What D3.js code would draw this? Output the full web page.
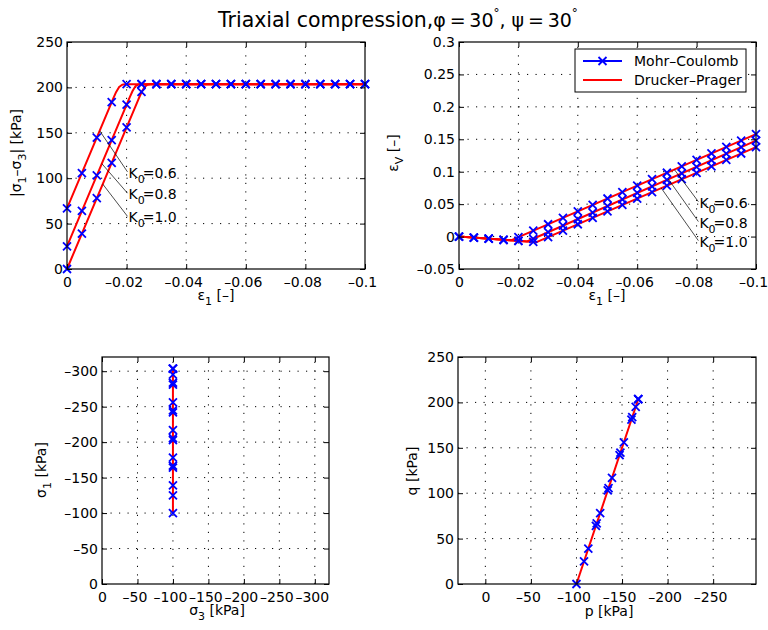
<!DOCTYPE html>
<html>
<head>
<meta charset="utf-8">
<script src="https://cdn.jsdelivr.net/npm/d3@7"></script>
<style>
  body { margin: 0; background: white; }
  svg { font-family: 'DejaVu Sans', sans-serif; }
  .tick text { font-size: 14px; fill: black; }
  .lbl { font-size: 14px; }
</style>
</head>
<body>
<svg id="fig" width="768" height="630"></svg>
<script>
// ---- data ----
const strain = [0, -0.005, -0.01, -0.015, -0.02, -0.025, -0.03, -0.035, -0.04, -0.045, -0.05,
  -0.055, -0.06, -0.065, -0.07, -0.075, -0.08, -0.085, -0.09, -0.095, -0.1];

// Mohr-Coulomb |s1-s3| [kPa]
const qK06 = [66.7, 105.7, 144.7, 183.7, 203.5, 203.5, 203.5, 203.5, 203.5, 203.5, 203.5,
  203.5, 203.5, 203.5, 203.5, 203.5, 203.5, 203.5, 203.5, 203.5, 203.5];
const qK08 = [25, 64, 103, 142, 181, 203.5, 203.5, 203.5, 203.5, 203.5, 203.5,
  203.5, 203.5, 203.5, 203.5, 203.5, 203.5, 203.5, 203.5, 203.5, 203.5];
const qK10 = [0, 39, 78, 117, 156, 195, 203.5, 203.5, 203.5, 203.5, 203.5,
  203.5, 203.5, 203.5, 203.5, 203.5, 203.5, 203.5, 203.5, 203.5, 203.5];

// Drucker-Prager |s1-s3| curves [strain, kPa]
const dpQK06 = [[0, 66.7], [-0.0155, 187.6], [-0.0165, 195], [-0.0175, 200.5], [-0.0185, 203], [-0.0195, 203.5], [-0.1, 203.5]];
const dpQK08 = [[0, 25], [-0.021, 188.8], [-0.022, 196], [-0.023, 201.5], [-0.024, 203.3], [-0.025, 203.5], [-0.1, 203.5]];
const dpQK10 = [[0, 0], [-0.024, 187.2], [-0.025, 194.5], [-0.026, 200.5], [-0.027, 203], [-0.028, 203.5], [-0.1, 203.5]];

// Mohr-Coulomb volumetric strain
const evK06 = [0, -0.00165, -0.0033, -0.005, -0.0008, 0.0091, 0.019, 0.0289, 0.0389, 0.0488, 0.0587,
  0.0687, 0.0786, 0.0885, 0.0984, 0.1084, 0.1183, 0.1282, 0.1382, 0.1481, 0.158];
const evK08 = [0, -0.00165, -0.0033, -0.005, -0.0066, -0.0034, 0.0067, 0.0168, 0.0269, 0.037, 0.0471,
  0.0572, 0.0673, 0.0774, 0.0874, 0.0975, 0.1076, 0.1177, 0.1278, 0.1379, 0.148];
const evK10 = [0, -0.00165, -0.0033, -0.005, -0.0066, -0.0083, -0.0009, 0.009, 0.019, 0.0289, 0.0388,
  0.0487, 0.0586, 0.0685, 0.0785, 0.0884, 0.0983, 0.1082, 0.1182, 0.1281, 0.138];

// Drucker-Prager volumetric strain curves
const dpEvK06 = [[0, 0], [-0.0175, -0.0058], [-0.1, 0.158]];
const dpEvK08 = [[0, 0], [-0.0229, -0.0076], [-0.1, 0.148]];
const dpEvK10 = [[0, 0], [-0.0261, -0.0086], [-0.1, 0.138]];

// stress paths
const sig3 = -100;
const s1K06 = [-166.7, -205.7, -244.7, -283.7, -303.5];
const s1K08 = [-125, -164, -203, -242, -281, -303.5];
const s1K10 = [-100, -139, -178, -217, -256, -295, -303.5];
const dpSig1 = [-100, -303.5];

const pK06 = [-122.2, -135.2, -148.2, -161.2, -167.8];
const pK08 = [-108.3, -121.3, -134.3, -147.3, -160.3, -167.8];
const pK10 = [-100, -113, -126, -139, -152, -165, -167.8];
const pqQK06 = [66.7, 105.7, 144.7, 183.7, 203.5];
const pqQK08 = [25, 64, 103, 142, 181, 203.5];
const pqQK10 = [0, 39, 78, 117, 156, 195, 203.5];
const dpP = [-100, -167.8];
const dpQ = [0, 203.5];

const k0Labels = ['0.6', '0.8', '1.0'];

// ticks
const strainTicks = [0, -0.02, -0.04, -0.06, -0.08, -0.1];
const qTicks = [0, 50, 100, 150, 200, 250];
const evTicks = [-0.05, 0, 0.05, 0.1, 0.15, 0.2, 0.25, 0.3];
const sigTicks = [0, -50, -100, -150, -200, -250, -300];
const pTicks = [0, -50, -100, -150, -200, -250];

// annotation anchors (data coords): point on curve, end of leader at text
const annoQ = [
  { xy: [-0.011, 152], xt: [-0.0203, 107] },
  { xy: [-0.0117, 116], xt: [-0.0203, 83.5] },
  { xy: [-0.012, 93.5], xt: [-0.0203, 58] }
];
const annoEv = [
  { xy: [-0.0725, 0.1034], xt: [-0.0806, 0.0538] },
  { xy: [-0.0705, 0.0885], xt: [-0.0806, 0.0231] },
  { xy: [-0.0681, 0.0747], xt: [-0.0806, -0.0063] }
];

// ---- drawing ----
const svg = d3.select('#fig');
const BLUE = '#0000ff', RED = '#ff0000';
const DASH = '\u2013';

function fmt(d) {
  if (d === 0) return '0';
  return String(d).replace('-', DASH);
}

function panel(box, xDom, yDom, xTicks, yTicks) {
  const x = d3.scaleLinear().domain(xDom).range([box.x0, box.x1]);
  const y = d3.scaleLinear().domain(yDom).range([box.y1, box.y0]);
  const g = svg.append('g');

  // dotted grid
  const grid = g.append('g').attr('stroke', 'black').attr('stroke-width', 1)
    .attr('stroke-dasharray', '1.2,7.3');
  grid.selectAll('.gx').data(xTicks.filter(t => x(t) > box.x0 + 1 && x(t) < box.x1 - 1)).join('line')
    .attr('x1', d => x(d)).attr('x2', d => x(d)).attr('y1', box.y1).attr('y2', box.y0);
  grid.selectAll('.gy').data(yTicks.filter(t => y(t) < box.y1 - 1 && y(t) > box.y0 + 1)).join('line')
    .attr('y1', d => y(d)).attr('y2', d => y(d)).attr('x1', box.x0).attr('x2', box.x1);

  const layer = g.append('g');

  // axes with inward ticks on all four sides
  const ax = g.append('g');
  const bottom = ax.append('g').attr('transform', `translate(0,${box.y1})`)
    .call(d3.axisBottom(x).tickValues(xTicks).tickSize(-5).tickPadding(8).tickFormat(fmt));
  bottom.selectAll('.tick text').attr('dx', d => d < 0 ? -3 : 0);
  ax.append('g').attr('transform', `translate(0,${box.y0})`)
    .call(d3.axisTop(x).tickValues(xTicks).tickSize(-5).tickFormat(''));
  ax.append('g').attr('transform', `translate(${box.x0},0)`)
    .call(d3.axisLeft(y).tickValues(yTicks).tickSize(-5).tickPadding(4).tickFormat(fmt));
  ax.append('g').attr('transform', `translate(${box.x1},0)`)
    .call(d3.axisRight(y).tickValues(yTicks).tickSize(-5).tickFormat(''));
  ax.selectAll('.domain').remove();
  ax.selectAll('.tick line').attr('stroke', 'black');
  ax.selectAll('.tick text').attr('font-family', 'DejaVu Sans');
  ax.append('rect').attr('x', box.x0).attr('y', box.y0)
    .attr('width', box.x1 - box.x0).attr('height', box.y1 - box.y0)
    .attr('fill', 'none').attr('stroke', 'black').attr('stroke-width', 1.2);

  return { layer, x, y };
}

function drawLine(p, pts) {
  p.layer.append('path')
    .attr('d', d3.line().x(d => p.x(d[0])).y(d => p.y(d[1]))(pts))
    .attr('fill', 'none').attr('stroke', RED).attr('stroke-width', 2)
    .attr('stroke-linejoin', 'round');
}

function drawMarkers(p, xs, ys) {
  const pts = xs.map((v, i) => [v, ys[i]]);
  const s = 4;
  p.layer.append('g').selectAll('path').data(pts).join('path')
    .attr('d', d => {
      const cx = p.x(d[0]), cy = p.y(d[1]);
      return `M${cx - s},${cy - s}L${cx + s},${cy + s}M${cx - s},${cy + s}L${cx + s},${cy - s}`;
    })
    .attr('stroke', BLUE).attr('stroke-width', 1.8).attr('fill', 'none');
}

function drawAnno(p, list) {
  list.forEach((a, i) => {
    p.layer.append('line')
      .attr('x1', p.x(a.xy[0])).attr('y1', p.y(a.xy[1]))
      .attr('x2', p.x(a.xt[0])).attr('y2', p.y(a.xt[1]))
      .attr('stroke', 'black').attr('stroke-width', 0.7);
    const t = p.layer.append('text').attr('class', 'lbl')
      .attr('x', p.x(a.xt[0]) + 1).attr('y', p.y(a.xt[1]) + 6);
    t.append('tspan').text('K');
    t.append('tspan').attr('dy', 5).attr('font-size', 11).text('0');
    t.append('tspan').attr('dy', -5).attr('dx', -2).text('=' + k0Labels[i]);
  });
}

// label helper: pieces alternate normal / subscript
function label(x, y, parts, rotate) {
  const t = svg.append('text').attr('class', 'lbl').attr('text-anchor', 'middle')
    .attr('transform', rotate ? `translate(${x},${y}) rotate(-90)` : `translate(${x},${y})`);
  parts.forEach((s, i) => {
    const sp = t.append('tspan').text(s);
    if (i > 0) sp.attr('dy', i % 2 ? 5 : -5);
    if (i % 2) sp.attr('font-size', 11);
  });
  return t;
}

// top-left: |s1-s3| vs strain
const tl = panel({ x0: 67, x1: 365, y0: 42, y1: 269 }, [0, -0.1], [0, 250], strainTicks, qTicks);
[dpQK06, dpQK08, dpQK10].forEach(c => drawLine(tl, c));
[qK06, qK08, qK10].forEach(q => drawMarkers(tl, strain, q));
drawAnno(tl, annoQ);

// top-right: volumetric strain
const tr = panel({ x0: 459, x1: 756, y0: 42, y1: 269 }, [0, -0.1], [-0.05, 0.3], strainTicks, evTicks);
[dpEvK06, dpEvK08, dpEvK10].forEach(c => drawLine(tr, c));
[evK06, evK08, evK10].forEach(e => drawMarkers(tr, strain, e));
drawAnno(tr, annoEv);

// bottom-left: s1 vs s3
const bl = panel({ x0: 102, x1: 329, y0: 357, y1: 584 }, [0, -320], [0, -320], sigTicks, sigTicks);
drawLine(bl, dpSig1.map(v => [sig3, v]));
[s1K06, s1K08, s1K10].forEach(s => drawMarkers(bl, s.map(() => sig3), s));

// bottom-right: q vs p
const br = panel({ x0: 458, x1: 756, y0: 357, y1: 584 }, [30, -297], [0, 250], pTicks, qTicks);
drawLine(br, dpP.map((v, i) => [v, dpQ[i]]));
drawMarkers(br, pK06, pqQK06);
drawMarkers(br, pK08, pqQK08);
drawMarkers(br, pK10, pqQK10);

// legend
const lg = svg.append('g');
lg.append('rect').attr('x', 575).attr('y', 49).attr('width', 171).attr('height', 43)
  .attr('fill', 'white').attr('stroke', 'black').attr('stroke-width', 1);
lg.append('line').attr('x1', 583).attr('x2', 622).attr('y1', 61).attr('y2', 61)
  .attr('stroke', BLUE).attr('stroke-width', 2);
lg.append('path').attr('d', 'M598.5,57L606.5,65M598.5,65L606.5,57')
  .attr('stroke', BLUE).attr('stroke-width', 1.8);
lg.append('line').attr('x1', 583).attr('x2', 622).attr('y1', 80).attr('y2', 80)
  .attr('stroke', RED).attr('stroke-width', 2);
lg.append('text').attr('class', 'lbl').attr('x', 634).attr('y', 66).text('Mohr' + DASH + 'Coulomb');
lg.append('text').attr('class', 'lbl').attr('x', 634).attr('y', 85).text('Drucker' + DASH + 'Prager');

// axis labels
label(216, 300, ['\u03b5', '1', ' [' + DASH + ']']);
label(607, 300, ['\u03b5', '1', ' [' + DASH + ']']);
label(21, 153, ['|\u03c3', '1', DASH + '\u03c3', '3', '| [kPa]'], true);
label(398, 153, ['\u03b5', 'V', ' [' + DASH + ']'], true);
label(46, 470, ['\u03c3', '1', ' [kPa]'], true);
label(217, 615, ['\u03c3', '3', ' [kPa]']);
label(417, 471, ['q [kPa]'], true);
label(609, 616, ['p [kPa]']);

// title
const title = svg.append('text').attr('x', 218).attr('y', 27).attr('font-size', 20.5);
title.append('tspan').text('Triaxial compression,');
title.append('tspan').attr('font-size', 19).text('\u03c6\u2009=\u200930');
title.append('tspan').attr('dy', -10).attr('font-size', 12).text('\u00b0');
title.append('tspan').attr('dy', 10).attr('font-size', 19).text(', \u03c8\u2009=\u200930');
title.append('tspan').attr('dy', -10).attr('font-size', 12).text('\u00b0');
</script>
</body>
</html>
